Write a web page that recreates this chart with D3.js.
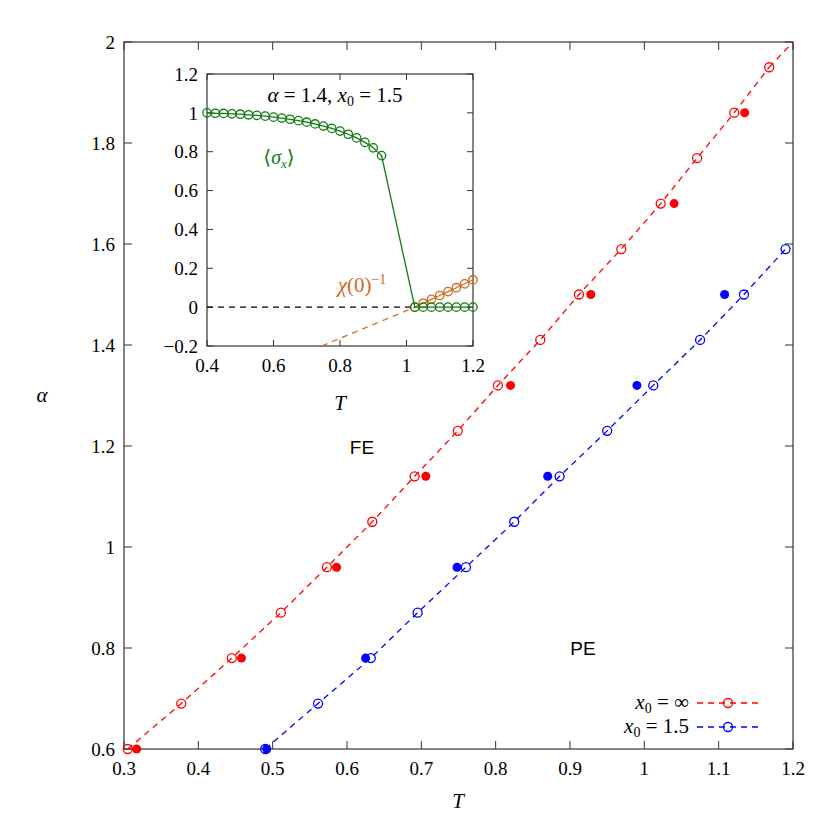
<!DOCTYPE html>
<html><head><meta charset="utf-8">
<script src="https://cdn.jsdelivr.net/npm/d3@7"></script>
<style>body{margin:0;background:#fff}text{font-family:"Liberation Serif","DejaVu Serif",serif}</style>
</head><body><svg id="c" width="832" height="832"></svg>
<script>
const alphaOpen=[0.6,0.69,0.78,0.87,0.96,1.05,1.14,1.23,1.32,1.41,1.5,1.59,1.68,1.77,1.86,1.95];
const redOpenT=[0.305,0.377,0.445,0.511,0.573,0.634,0.691,0.749,0.803,0.860,0.912,0.969,1.022,1.071,1.121,1.168];
const alphaFilled=[0.6,0.78,0.96,1.14,1.32,1.5,1.68,1.86];
const redFilledT=[0.317,0.458,0.586,0.706,0.82,0.928,1.04,1.135];
const blueAlpha=[0.6,0.69,0.78,0.87,0.96,1.05,1.14,1.23,1.32,1.41,1.5,1.59];
const blueOpenT=[0.49,0.561,0.632,0.695,0.76,0.825,0.886,0.95,1.012,1.075,1.134,1.19];
const blueFilledAlpha=[0.6,0.78,0.96,1.14,1.32,1.5];
const blueFilledT=[0.492,0.625,0.748,0.87,0.99,1.108];
const xTicks=[0.3,0.4,0.5,0.6,0.7,0.8,0.9,1,1.1,1.2];
const yTicks=[0.6,0.8,1,1.2,1.4,1.6,1.8,2];
// inset
const sigT=[0.4,0.425,0.45,0.475,0.5,0.525,0.55,0.575,0.6,0.625,0.65,0.675,0.7,0.725,0.75,0.775,0.8,0.825,0.85,0.875,0.9,0.925];
const sigV=[1.0,0.998,0.997,0.995,0.993,0.99,0.987,0.983,0.978,0.973,0.967,0.96,0.952,0.943,0.932,0.92,0.906,0.89,0.871,0.848,0.82,0.78];
const highT=[1.025,1.05,1.075,1.1,1.125,1.15,1.175,1.2];
const sigHigh=[0,0,0,0,0,0,0,0];
const chiV=[0,0.02,0.04,0.06,0.08,0.1,0.12,0.14];
const chiExtT=[0.745,1.025];const chiExtV=[-0.2,0];
const insXTicks=[0.4,0.6,0.8,1,1.2];
const insYTicks=[-0.2,0,0.2,0.4,0.6,0.8,1,1.2];

const svg=d3.select("#c");
const x=d3.scaleLinear([0.3,1.2],[124,793]);
const y=d3.scaleLinear([0.6,2],[749,42]);
function frame(g,xs,ys,xt,yt,tl,fs,xfmt){
 g.append("rect").attr("x",xs.range()[0]).attr("y",ys.range()[1]).attr("width",xs.range()[1]-xs.range()[0]).attr("height",ys.range()[0]-ys.range()[1]).attr("fill","none").attr("stroke","#333").attr("stroke-width",1.2);
 xt.forEach(t=>{const px=xs(t);
  g.append("line").attr("x1",px).attr("x2",px).attr("y1",ys.range()[0]).attr("y2",ys.range()[0]-tl).attr("stroke","#333");
  g.append("line").attr("x1",px).attr("x2",px).attr("y1",ys.range()[1]).attr("y2",ys.range()[1]+tl).attr("stroke","#333");
  g.append("text").attr("x",px).attr("y",ys.range()[0]+fs+7).attr("text-anchor","middle").attr("font-size",fs).text(xfmt(t));});
 yt.forEach(t=>{const py=ys(t);
  g.append("line").attr("x1",xs.range()[0]).attr("x2",xs.range()[0]+tl).attr("y1",py).attr("y2",py).attr("stroke","#333");
  g.append("line").attr("x1",xs.range()[1]).attr("x2",xs.range()[1]-tl).attr("y1",py).attr("y2",py).attr("stroke","#333");
  g.append("text").attr("x",xs.range()[0]-9).attr("y",py+fs*0.35).attr("text-anchor","end").attr("font-size",fs).text(t<0?"\u2212"+Math.abs(t):String(t));});
}
frame(svg,x,y,xTicks,yTicks,8,19,t=>String(t));
const line=d3.line().x(d=>x(d[0])).y(d=>y(d[1]));
function series(T,A,FT,FA,col){
 const pts=T.map((t,i)=>[t,A[i]]);
 svg.append("path").attr("d",line(pts)).attr("fill","none").attr("stroke",col).attr("stroke-width",1.3).attr("stroke-dasharray","6,5");
 svg.selectAll(null).data(pts).enter().append("circle").attr("cx",d=>x(d[0])).attr("cy",d=>y(d[1])).attr("r",4.5).attr("fill","none").attr("stroke",col).attr("stroke-width",1.3);
 svg.selectAll(null).data(FT.map((t,i)=>[t,FA[i]])).enter().append("circle").attr("cx",d=>x(d[0])).attr("cy",d=>y(d[1])).attr("r",4.5).attr("fill",col);
}
series(redOpenT,alphaOpen,redFilledT,alphaFilled,"#ff0000");
svg.append("path").attr("d",line([[1.168,1.95],[1.2,2.0]])).attr("stroke","#ff0000").attr("stroke-width",1.3).attr("stroke-dasharray","6,5");
series(blueOpenT,blueAlpha,blueFilledT,blueFilledAlpha,"#0000ff");
svg.append("text").attr("x",42).attr("y",402).attr("font-size",21).attr("font-style","italic").attr("text-anchor","middle").text("α");
svg.append("text").attr("x",458).attr("y",808).attr("font-size",21).attr("font-style","italic").attr("text-anchor","middle").text("T");
svg.append("text").attr("x",362).attr("y",454).attr("font-size",19).style("font-family","'Liberation Sans',Arial,sans-serif").attr("text-anchor","middle").text("FE");
svg.append("text").attr("x",583).attr("y",655).attr("font-size",19).style("font-family","'Liberation Sans',Arial,sans-serif").attr("text-anchor","middle").text("PE");
function leg(yy,lbl,col){
 const t=svg.append("text").attr("x",689).attr("y",yy+6).attr("font-size",21).attr("text-anchor","end");
 t.append("tspan").attr("font-style","italic").text("x");t.append("tspan").attr("font-size",14).attr("dy",4).text("0");t.append("tspan").attr("dy",-4).text(" = "+lbl);
 svg.append("line").attr("x1",697).attr("x2",762).attr("y1",yy).attr("y2",yy).attr("stroke",col).attr("stroke-width",1.3).attr("stroke-dasharray","6,5");
 svg.append("circle").attr("cx",728).attr("cy",yy).attr("r",4.5).attr("fill","none").attr("stroke",col).attr("stroke-width",1.3);
}
leg(703,"∞","#ff0000");leg(727,"1.5","#0000ff");
const ix=d3.scaleLinear([0.4,1.2],[207,473]);
const iy=d3.scaleLinear([-0.2,1.2],[346,74]);
const ig=svg.append("g");
ig.append("rect").attr("x",207).attr("y",74).attr("width",266).attr("height",272).attr("fill","#fff");
frame(ig,ix,iy,insXTicks,insYTicks,6,19,t=>String(t));
const il=d3.line().x(d=>ix(d[0])).y(d=>iy(d[1]));
ig.append("path").attr("d",il([[0.4,0],[1.025,0]])).attr("stroke","#000").attr("stroke-width",1.3).attr("stroke-dasharray","6,5");
ig.append("path").attr("d",il(chiExtT.map((t,i)=>[t,chiExtV[i]]))).attr("stroke","#d2691e").attr("stroke-width",1.3).attr("stroke-dasharray","6,5");
const chiPts=highT.map((t,i)=>[t,chiV[i]]);
ig.append("path").attr("d",il(chiPts)).attr("fill","none").attr("stroke","#d2691e").attr("stroke-width",1.2);
ig.selectAll(null).data(chiPts).enter().append("circle").attr("cx",d=>ix(d[0])).attr("cy",d=>iy(d[1])).attr("r",4.2).attr("fill","none").attr("stroke","#d2691e").attr("stroke-width",1.3);
const sigPts=sigT.map((t,i)=>[t,sigV[i]]).concat(highT.map((t,i)=>[t,sigHigh[i]]));
ig.append("path").attr("d",il(sigPts)).attr("fill","none").attr("stroke","#137a13").attr("stroke-width",1.3);
ig.selectAll(null).data(sigPts).enter().append("circle").attr("cx",d=>ix(d[0])).attr("cy",d=>iy(d[1])).attr("r",4.2).attr("fill","none").attr("stroke","#137a13").attr("stroke-width",1.3);
const tt=ig.append("text").attr("x",335).attr("y",102).attr("font-size",21).attr("text-anchor","middle");
tt.append("tspan").attr("font-style","italic").text("α");tt.append("tspan").text(" = 1.4, ");tt.append("tspan").attr("font-style","italic").text("x");tt.append("tspan").attr("font-size",14).attr("dy",4).text("0");tt.append("tspan").attr("dy",-4).text(" = 1.5");
const sg=ig.append("text").attr("x",279).attr("y",164).attr("font-size",20).attr("fill","#137a13").attr("text-anchor","middle");
sg.append("tspan").text("⟨");sg.append("tspan").attr("font-style","italic").text("σ");sg.append("tspan").attr("font-size",13).attr("font-style","italic").attr("dy",4).text("x");sg.append("tspan").attr("dy",-4).text("⟩");
const ch=ig.append("text").attr("x",362).attr("y",292).attr("font-size",21).attr("fill","#d2691e").attr("text-anchor","middle");
ch.append("tspan").attr("font-style","italic").text("χ");ch.append("tspan").text("(0)");ch.append("tspan").attr("font-size",14).attr("dy",-8).text("−1");
ig.append("text").attr("x",340).attr("y",410).attr("font-size",21).attr("font-style","italic").attr("text-anchor","middle").text("T");
</script></body></html>
